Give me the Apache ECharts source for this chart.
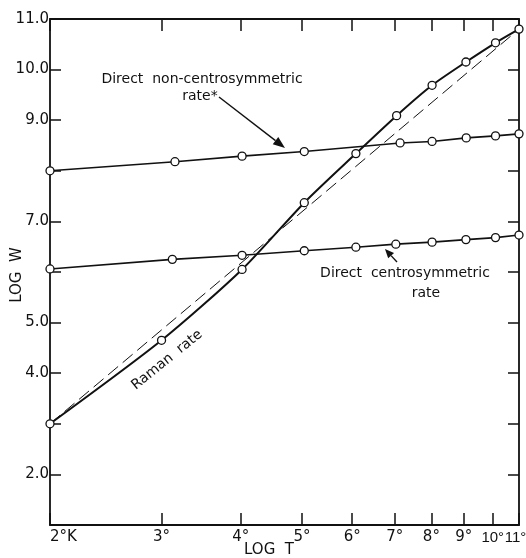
<!DOCTYPE html>
<html>
<head>
<meta charset="utf-8">
<script src="https://cdn.jsdelivr.net/npm/echarts@6/dist/echarts.min.js"></script>
<style>
  html, body { margin: 0; padding: 0; background: #fff; }
  #chart { width: 526px; height: 558px; }
</style>
</head>
<body>
<div id="chart"></div>
<script>
// temperature ticks (deg K) and log W ticks
const tTicks = [2, 3, 4, 5, 6, 7, 8, 9, 10, 11];
const wLabels = [2, 4, 5, 7, 9, 10, 11];

// direct non-centrosymmetric rate
const nonCentroT = [2, 3.15, 4.02, 5.04, 7.14, 8.02, 9.08, 10.1, 11];
const nonCentroW = [8.00, 8.18, 8.29, 8.38, 8.55, 8.58, 8.65, 8.69, 8.73];

// direct centrosymmetric rate
const centroT = [2, 3.12, 4.02, 5.04, 6.08, 7.03, 8.02, 9.07, 10.1, 11];
const centroW = [6.06, 6.25, 6.33, 6.42, 6.49, 6.55, 6.59, 6.64, 6.68, 6.73];

// raman rate
const ramanT = [2, 3.0, 4.02, 5.04, 6.08, 7.05, 8.02, 9.07, 10.1, 11];
const ramanW = [3.0, 4.65, 6.05, 7.37, 8.34, 9.09, 9.69, 10.15, 10.53, 10.80];

// dashed reference line
const dashT = [2, 11];
const dashW = [3.0, 10.8];

const FONT = 'DejaVu Sans';
const INK = '#111';

function pairs(xs, ys) {
  return xs.map((x, i) => [x, ys[i]]);
}

function arrow(x0, y0, x1, y1, len, half) {
  const a = Math.atan2(y1 - y0, x1 - x0);
  const bx = x1 - len * Math.cos(a), by = y1 - len * Math.sin(a);
  const px = -Math.sin(a) * half, py = Math.cos(a) * half;
  return [
    { type: 'line', shape: { x1: x0, y1: y0, x2: bx, y2: by }, style: { stroke: INK, lineWidth: 1.4 } },
    { type: 'polygon', shape: { points: [[x1, y1], [bx + px, by + py], [bx - px, by - py]] }, style: { fill: INK } }
  ];
}

function label(text, x, y, size, rot) {
  return {
    type: 'text', x: x, y: y, rotation: rot || 0,
    style: { text: text, font: size + 'px "DejaVu Sans"', fill: INK, align: 'center', verticalAlign: 'middle' }
  };
}

const lineSeries = (data, w, smooth) => ({
  type: 'line',
  data: data,
  smooth: smooth,
  clip: false,
  symbol: 'circle',
  symbolSize: 8,
  itemStyle: { color: '#fff', borderColor: INK, borderWidth: 1.3 },
  lineStyle: { color: INK, width: w },
  z: 3
});

let myChart = echarts.init(document.getElementById('chart'));

const xCommon = {
  type: 'log',
  logBase: 10,
  min: 2,
  max: 11,
  axisLine: { lineStyle: { color: INK, width: 1.8 } },
  axisTick: { inside: true, length: 12, customValues: tTicks, lineStyle: { color: INK, width: 1.5 } },
  splitLine: { show: false },
  minorTick: { show: false }
};
const yCommon = {
  type: 'value',
  min: 1,
  max: 11,
  interval: 1,
  axisLine: { show: true, lineStyle: { color: INK, width: 1.8 } },
  axisTick: { show: true, inside: true, length: 11, lineStyle: { color: INK, width: 1.5 } },
  splitLine: { show: false }
};

// last two labels sit close together, so they get a narrower face
function tLabel(v) {
  const n = Math.round(v);
  if (n === 2) return '2°K';
  if (n === 10) return '{n|10°}';
  if (n === 11) return '{last|11°}';
  return n + '°';
}

myChart.setOption({
  backgroundColor: '#fff',
  animation: false,
  grid: { left: 50, right: 7, top: 19, bottom: 33, containLabel: false, outerBoundsMode: 'none' },
  xAxis: [
    Object.assign({}, xCommon, {
      position: 'bottom',
      axisLabel: {
        customValues: tTicks,
        formatter: tLabel,
        color: INK, fontFamily: FONT, fontSize: 15, margin: 5,
        showMinLabel: true, showMaxLabel: true, hideOverlap: false,
        alignMinLabel: 'left', alignMaxLabel: 'center',
        rich: {
          n: { fontFamily: 'Liberation Sans', fontSize: 15, color: INK },
          last: { fontFamily: 'Liberation Sans', fontSize: 15, color: INK, padding: [0, 7, 0, 0] }
        }
      }
    }),
    Object.assign({}, xCommon, { position: 'top', axisLabel: { show: false } })
  ],
  yAxis: [
    Object.assign({}, yCommon, {
      position: 'left',
      axisLabel: {
        formatter: v => (wLabels.indexOf(v) >= 0 ? v.toFixed(1) : ''),
        color: INK, fontFamily: FONT, fontSize: 15, margin: 1
      }
    }),
    Object.assign({}, yCommon, { position: 'right', axisLabel: { show: false } })
  ],
  series: [
    {
      type: 'line',
      data: pairs(dashT, dashW),
      symbol: 'none',
      clip: false,
      lineStyle: { color: INK, width: 1, type: [13, 6] },
      z: 2
    },
    lineSeries(pairs(nonCentroT, nonCentroW), 1.6, false),
    lineSeries(pairs(centroT, centroW), 1.6, false),
    lineSeries(pairs(ramanT, ramanW), 2, 0.25)
  ],
  graphic: [
    label('Direct  non-centrosymmetric', 202, 79, 14),
    label('rate*', 200, 96, 14),
    label('Direct  centrosymmetric', 405, 273, 14),
    label('rate', 426, 293, 14),
    label('Raman  rate', 167, 360, 14, 39 * Math.PI / 180),
    label('LOG  W', 17, 275, 15, Math.PI / 2),
    label('LOG  T', 269, 550, 15)
  ].concat(arrow(219, 97, 285, 148, 12, 4.5)).concat(arrow(397, 262, 385, 249, 9, 4))
});
</script>
</body>
</html>
